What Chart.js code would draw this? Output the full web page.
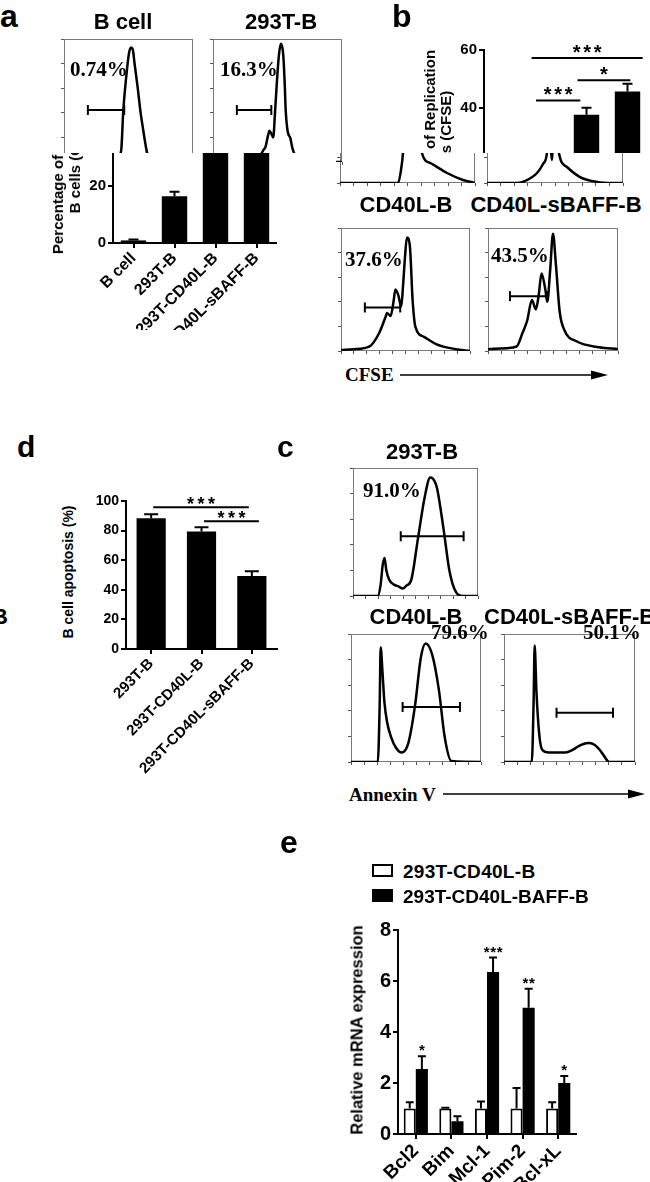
<!DOCTYPE html>
<html>
<head>
<meta charset="utf-8">
<title>B cell replication and apoptosis</title>
<script src="https://cdn.jsdelivr.net/npm/chart.js@4.4.1/dist/chart.umd.min.js"></script>
<style>
  html, body { margin: 0; padding: 0; background: #fff; }
  body { position: relative; width: 650px; height: 1182px; overflow: hidden;
         font-family: "Liberation Sans", Arial, sans-serif; color: #000; }
  canvas { position: absolute; }
  .t { position: absolute; font-weight: bold; white-space: nowrap; line-height: 1; z-index: 5; }
  .tc { transform: translateX(-50%); }
  .serif { font-family: "Liberation Serif", "Times New Roman", serif; }
  .clip { position: absolute; overflow: hidden; background: #fff; }
  .rot { position: absolute; font-weight: bold; white-space: nowrap; text-align: center;
         transform: translate(-50%, -50%) rotate(-90deg); }
  .box { position: absolute; box-sizing: border-box; }
</style>
</head>
<body>

<!-- panel letters -->
<div class="t" style="left:0;top:0;font-size:32px">a</div>
<div class="t" style="left:392px;top:0;font-size:32px">b</div>
<div class="t" style="left:17px;top:432px;font-size:30px">d</div>
<div class="t" style="left:277px;top:432px;font-size:30px">c</div>
<div class="t" style="left:280px;top:826px;font-size:32px">e</div>
<div class="t" style="left:-8px;top:606px;font-size:22px">B</div>

<!-- a: CFSE histograms -->
<div class="t tc" style="left:123px;top:11px;font-size:22px">B cell</div>
<div class="t tc" style="left:281px;top:11px;font-size:22px">293T-B</div>
<canvas id="hA1" style="z-index:3"></canvas>
<canvas id="hA2" style="z-index:3"></canvas>
<div class="t serif" style="left:70px;top:59px;font-size:21px">0.74%</div>
<div class="t serif" style="left:220px;top:59px;font-size:21px">16.3%</div>

<div class="clip" style="left:0;top:153px;width:336px;height:177px;z-index:4">
  <canvas id="barA"></canvas>
  <div class="rot" style="left:65.5px;top:9px;font-size:15px;line-height:17px">Percentage of Replication<br>B cells (CFSE)</div>
</div>

<!-- b -->
<canvas id="hB1" style="z-index:1"></canvas>
<canvas id="hB2" style="z-index:1"></canvas>
<div class="clip" style="left:336px;top:30px;width:314px;height:123px;z-index:2">
  <canvas id="barB"></canvas>
  <div class="rot" style="left:101.5px;top:111.5px;font-size:15px;line-height:16px">Percentage of Replication<br>B cells (CFSE)</div>
</div>
<div class="t tc" style="left:406px;top:194px;font-size:22px">CD40L-B</div>
<div class="t tc" style="left:556px;top:194px;font-size:22px">CD40L-sBAFF-B</div>
<canvas id="hB3"></canvas>
<canvas id="hB4"></canvas>
<div class="t serif" style="left:345px;top:249px;font-size:21px">37.6%</div>
<div class="t serif" style="left:491px;top:245px;font-size:21px">43.5%</div>
<div class="t serif" style="left:345px;top:365px;font-size:19px">CFSE</div>
<svg style="position:absolute;left:395px;top:369px" width="220" height="12">
  <line x1="5" y1="6" x2="200" y2="6" stroke="#000" stroke-width="1.5"/>
  <polygon points="196,1.5 213,6 196,10.5" fill="#000"/>
</svg>

<!-- d -->
<canvas id="barD"></canvas>
<div class="rot" style="left:68px;top:572px;font-size:14px">B cell apoptosis (%)</div>

<!-- c: Annexin V histograms -->
<div class="t tc" style="left:422px;top:441px;font-size:22px">293T-B</div>
<div class="t tc" style="left:416px;top:606px;font-size:22px">CD40L-B</div>
<div class="t" style="left:484px;top:606px;font-size:22px">CD40L-sBAFF-B</div>
<canvas id="hC1"></canvas>
<canvas id="hC2"></canvas>
<canvas id="hC3"></canvas>
<div class="t serif" style="left:363px;top:480px;font-size:21px">91.0%</div>
<div class="t serif" style="left:431px;top:622px;font-size:21px">79.6%</div>
<div class="t serif" style="left:583px;top:622px;font-size:21px">50.1%</div>
<div class="t serif" style="left:349px;top:785px;font-size:19px">Annexin V</div>
<svg style="position:absolute;left:438px;top:788px" width="212" height="12">
  <line x1="5" y1="6" x2="195" y2="6" stroke="#000" stroke-width="1.5"/>
  <polygon points="190,1.5 207,6 190,10.5" fill="#000"/>
</svg>

<!-- e -->
<div class="box" style="left:372px;top:864px;width:21px;height:13px;border:2px solid #000;background:#fff"></div>
<div class="box" style="left:372px;top:889px;width:21px;height:13px;background:#000"></div>
<div class="t" style="left:403px;top:862px;font-size:19px;letter-spacing:0.3px">293T-CD40L-B</div>
<div class="t" style="left:403px;top:887px;font-size:19px">293T-CD40L-BAFF-B</div>
<canvas id="barE"></canvas>
<div class="rot" style="left:357px;top:1030px;font-size:16.5px;z-index:5">Relative mRNA expression</div>

<script>
// ---- a/b bar chart: % of replicating B cells (CFSE) ----
const repCats = ['B cell', '293T-B', '293T-CD40L-B', '293T-CD40L-sBAFF-B'];
const repVals = [0.9, 16.3, 37.8, 45.8];
const repErr = [0.3, 1.5, 2.4, 2.6];
const repSigFrom = [0.66, 1.78, 0.77];
const repSigTo = [3.37, 3.07, 1.85];
const repSigY = [57.3, 49.6, 42.7];
const repSigText = ['***', '*', '***'];

// ---- d: B cell apoptosis ----
const apoCats = ['293T-B', '293T-CD40L-B', '293T-CD40L-sBAFF-B'];
const apoVals = [88.4, 79.4, 49.3];
const apoErr = [2.6, 2.8, 3.2];
const apoSigFrom = [0.04, 1.05];
const apoSigTo = [1.94, 2.14];
const apoSigY = [95.8, 86.3];
const apoSigText = ['***', '***'];

// ---- e: relative mRNA expression ----
const geneCats = ['Bcl2', 'Bim', 'Mcl-1', 'Pim-2', 'Bcl-xL'];
const ctrlVals = [1.0, 1.0, 1.0, 1.0, 1.0];
const ctrlErr = [0.25, 0.03, 0.27, 0.8, 0.25];
const baffVals = [2.55, 0.5, 6.35, 4.95, 2.0];
const baffErr = [0.5, 0.2, 0.57, 0.75, 0.27];
const baffStars = ['*', '', '***', '**', '*'];

// ---- histograms: [channel, % of max] ----
const histBcell = [[0,0],[348,0.8],[422,3.8],[444,10],[459,40.8],[481,67.7],[504,88.5],[519,93.1],[533,91.5],[548,79.2],[570,61.5],[593,40.8],[615,25.4],[630,15.4],[644,7.7],[681,2.3],[756,0],[1000,0]];
const hist293 = [[0,0],[281,0.8],[356,3.8],[393,10],[407,12.3],[430,23.1],[437,25.4],[452,23.1],[467,20],[481,40.8],[496,66.2],[511,86.9],[526,96.2],[541,90.8],[548,81.5],[556,63.8],[563,43.1],[578,25.4],[600,19.2],[615,11.5],[637,5.4],[689,0.8],[1000,0]];
const histTop1 = [[0,0],[430,0],[452,10],[467,23.1],[496,63.8],[526,90.8],[548,94.6],[570,71.5],[593,40.8],[607,23.1],[667,15.4],[793,7.7],[911,2.3],[1000,0]];
const histTop2 = [[0,0],[206,0],[279,1.5],[368,7.7],[412,14.6],[441,23.1],[456,48.5],[478,17.7],[500,83.1],[515,40.8],[529,23.1],[588,12.3],[684,4.6],[809,0.8],[919,0],[1000,0]];
const histCd40 = [[0,0.8],[96,1.5],[222,3.8],[296,14.6],[348,28.5],[356,30.8],[385,28.5],[407,40],[422,50],[444,45.4],[467,36.2],[481,53.1],[496,76.2],[511,92.3],[533,86.2],[556,40],[578,19.2],[644,11.5],[741,5.4],[889,1.5],[1000,0]];
const histBaff = [[0,1.5],[147,2.3],[221,3.8],[265,14.6],[301,24.6],[338,41.5],[368,33.8],[390,45.4],[412,63.1],[441,50],[456,40],[478,65.4],[500,95.4],[522,70.8],[551,32.3],[588,16.9],[684,7.7],[853,3.1],[1000,1.5]];
const annex293 = [[0,0],[198,0],[221,8.9],[237,23.7],[252,29.6],[267,20],[290,12.6],[328,8.9],[366,7.4],[397,5.9],[427,8.1],[466,12.6],[519,44.4],[573,77],[618,92.6],[649,90.4],[672,84.4],[725,51.9],[771,20],[824,3],[878,0],[1000,0]];
const annexCd40 = [[0,0],[206,0],[221,46.7],[228,89.6],[243,68.9],[257,46.7],[279,30.4],[309,19.3],[346,11.1],[390,7.4],[441,14.8],[493,44.4],[537,81.5],[574,92.6],[625,83.7],[676,56.3],[721,19.3],[772,0.7],[1000,0]];
const annexBaff = [[0,0],[212,0],[226,46.7],[234,91.1],[248,54.1],[270,20.7],[292,9.6],[343,7.4],[467,7.4],[526,9.6],[562,11.9],[606,14.1],[650,14.8],[693,13.3],[730,9.6],[766,4.4],[803,0],[1000,0]];

// gates: [from, to, level]
const gateBcell = [185, 467, 42.3];
const gate293 = [185, 452, 42.3];
const gateCd40 = [185, 459, 35.4];
const gateBaff = [169, 456, 44.6];
const gateAnx293 = [382, 885, 46.7];
const gateAnxCd40 = [397, 838, 43];
const gateAnxBaff = [401, 832, 38.5];

const FONT = '"Liberation Sans", Arial, sans-serif';
Chart.defaults.font.family = FONT;
Chart.defaults.color = '#000';

// grey box round each histogram
const frame = {
  id: 'frame',
  beforeDatasetsDraw(chart) {
    const a = chart.chartArea, ctx = chart.ctx;
    ctx.save();
    ctx.strokeStyle = '#7a7a7a';
    ctx.lineWidth = 1;
    ctx.strokeRect(a.left + 0.5, a.top + 0.5, a.right - a.left - 1, a.bottom - a.top - 1);
    ctx.restore();
  }
};

function stars(ctx, s, x, y, size, step) {
  ctx.font = 'bold ' + size + 'px ' + FONT;
  ctx.textAlign = 'center';
  ctx.textBaseline = 'alphabetic';
  ctx.fillStyle = '#000';
  for (let k = 0; k < s.length; k++) ctx.fillText('*', x + (k - (s.length - 1) / 2) * step, y);
}

// error bars + significance brackets
const extras = {
  id: 'extras',
  afterDatasetsDraw(chart, args, o) {
    const ctx = chart.ctx, xs = chart.scales.x, ys = chart.scales.y;
    ctx.save();
    ctx.strokeStyle = '#000';
    ctx.lineWidth = 2;
    chart.data.datasets.forEach((ds, di) => {
      if (!ds.err) return;
      chart.getDatasetMeta(di).data.forEach((bar, i) => {
        const top = ys.getPixelForValue(ds.data[i] + ds.err[i]);
        ctx.beginPath();
        ctx.moveTo(bar.x, bar.y);
        ctx.lineTo(bar.x, top);
        ctx.moveTo(bar.x - o.cap / 2, top);
        ctx.lineTo(bar.x + o.cap / 2, top);
        ctx.stroke();
        if (ds.stars && ds.stars[i]) stars(ctx, ds.stars[i], bar.x, top - 1, o.starSize, o.starStep);
      });
    });
    (o.sigFrom || []).forEach((f, i) => {
      const x1 = xs.getPixelForValue(f), x2 = xs.getPixelForValue(o.sigTo[i]);
      const y = ys.getPixelForValue(o.sigY[i]);
      ctx.beginPath();
      ctx.moveTo(x1, y);
      ctx.lineTo(x2, y);
      ctx.stroke();
      stars(ctx, o.sigText[i], (x1 + x2) / 2, y + o.starOff, o.starSize, o.starStep);
    });
    ctx.restore();
  }
};

function place(id, left, top, w, h) {
  const c = document.getElementById(id);
  c.width = w;
  c.height = h;
  c.style.left = left + 'px';
  c.style.top = top + 'px';
  return c;
}

function hist(id, box, pts, gate) {
  const [L, T, W, H] = box;
  const c = place(id, L - 6, T - 1, W + 8, H + 7);
  const sets = [{
    data: pts.map(p => ({ x: p[0], y: p[1] })),
    borderColor: '#000', borderWidth: 2.5, pointRadius: 0, cubicInterpolationMode: 'monotone'
  }];
  if (gate) {
    sets.push({
      data: [{ x: gate[0], y: gate[2] }, { x: gate[1], y: gate[2] }],
      borderColor: '#000', borderWidth: 2, pointStyle: 'line', pointRotation: 90,
      pointRadius: 5, pointBorderWidth: 2, pointBorderColor: '#000'
    });
  }
  new Chart(c, {
    type: 'line',
    data: { datasets: sets },
    options: {
      responsive: false, animation: false, events: [],
      layout: { padding: { top: 1, right: 2, left: 0, bottom: 0 } },
      plugins: { legend: { display: false }, tooltip: { enabled: false } },
      scales: {
        x: { type: 'linear', min: 0, max: 1000, ticks: { display: false, stepSize: 100 },
             grid: { drawOnChartArea: false, tickLength: 3, color: '#555' }, border: { display: false },
             afterFit: s => { s.height = 6; } },
        y: { min: 0, max: 100, ticks: { display: false, stepSize: 20 },
             grid: { drawOnChartArea: false, tickLength: 3, color: '#555' }, border: { display: false },
             afterFit: s => { s.width = 6; } }
      }
    },
    plugins: [frame]
  });
}

// canvas sized so the plot area lands on [L, R] x [T, B]
function barCanvas(id, L, T, R, B, yw, xh, pt, pr) {
  return place(id, L - yw, T - pt, R - L + yw + pr, B - T + pt + xh);
}

function axes(max, step, yw, xh, xFont, yFont) {
  return {
    x: {
      ticks: { font: { weight: 'bold', size: xFont }, color: '#000', minRotation: 45, maxRotation: 45, autoSkip: false, padding: 1 },
      grid: { drawOnChartArea: false, offset: false, tickLength: 5, color: '#000', lineWidth: 2 },
      border: { color: '#000', width: 2 },
      afterFit: s => { s.height = xh; }
    },
    y: {
      min: 0, max: max,
      ticks: { stepSize: step, font: { weight: 'bold', size: yFont }, color: '#000', padding: 2 },
      grid: { drawOnChartArea: false, tickLength: 5, color: '#000', lineWidth: 2 },
      border: { color: '#000', width: 2 },
      afterFit: s => { s.width = yw; }
    }
  };
}

function repChart(id, max, geo) {
  const c = barCanvas(id, ...geo);
  new Chart(c, {
    type: 'bar',
    data: { labels: repCats, datasets: [{ data: repVals, err: repErr, backgroundColor: '#000', borderWidth: 0, categoryPercentage: 1, barPercentage: 0.62 }] },
    options: {
      responsive: false, animation: false, events: [],
      layout: { padding: { top: geo[7], right: geo[8] } },
      plugins: {
        legend: { display: false }, tooltip: { enabled: false },
        extras: { cap: 10, sigFrom: repSigFrom, sigTo: repSigTo, sigY: repSigY, sigText: repSigText, starSize: 20, starStep: 10.5, starOff: 1 }
      },
      scales: axes(max, 20, geo[4], geo[5], 16, 15)
    },
    plugins: [extras]
  });
}

// a histograms
hist('hA1', [63, 33, 135, 130], histBcell, gateBcell);
hist('hA2', [212, 33, 135, 130], hist293, gate293);
// b histograms
hist('hB1', [340, 53, 135, 130], histTop1, null);
hist('hB2', [487, 53, 136, 130], histTop2, null);
hist('hB3', [340, 222, 135, 130], histCd40, gateCd40);
hist('hB4', [487, 222, 136, 130], histBaff, gateBaff);
// c histograms
hist('hC1', [352, 462, 131, 135], annex293, gateAnx293);
hist('hC2', [350, 628, 136, 135], annexCd40, gateAnxCd40);
hist('hC3', [503, 628, 137, 135], annexBaff, gateAnxBaff);

// a: lower part of the replication chart, b: upper part (coords inside their clip boxes)
repChart('barA', 40, [113, -16, 269, 90, 50, 110, 20, 8]);
repChart('barB', 60, [148, 39, 306, 195, 50, 110, 30, 6]);

// d
new Chart(barCanvas('barD', 126, 501, 277, 649, 45, 130, 20, 10), {
  type: 'bar',
  data: { labels: apoCats, datasets: [{ data: apoVals, err: apoErr, backgroundColor: '#000', borderWidth: 0, categoryPercentage: 1, barPercentage: 0.58 }] },
  options: {
    responsive: false, animation: false, events: [],
    layout: { padding: { top: 20, right: 10 } },
    plugins: {
      legend: { display: false }, tooltip: { enabled: false },
      extras: { cap: 14, sigFrom: apoSigFrom, sigTo: apoSigTo, sigY: apoSigY, sigText: apoSigText, starSize: 18, starStep: 10.5, starOff: 3 }
    },
    scales: axes(100, 20, 45, 130, 15, 14)
  },
  plugins: [extras]
});

// e
new Chart(barCanvas('barE', 398, 930, 576, 1134, 40, 60, 30, 10), {
  type: 'bar',
  data: {
    labels: geneCats,
    datasets: [
      { label: '293T-CD40L-B', data: ctrlVals, err: ctrlErr, backgroundColor: '#fff', borderColor: '#000', borderWidth: 2, categoryPercentage: 0.68, barPercentage: 1 },
      { label: '293T-CD40L-BAFF-B', data: baffVals, err: baffErr, stars: baffStars, backgroundColor: '#000', borderWidth: 0, categoryPercentage: 0.68, barPercentage: 1 }
    ]
  },
  options: {
    responsive: false, animation: false, events: [],
    layout: { padding: { top: 30, right: 10 } },
    plugins: {
      legend: { display: false }, tooltip: { enabled: false },
      extras: { cap: 8, starSize: 15, starStep: 6.5 }
    },
    scales: axes(8, 2, 40, 60, 19, 20)
  },
  plugins: [extras]
});
</script>
</body>
</html>
